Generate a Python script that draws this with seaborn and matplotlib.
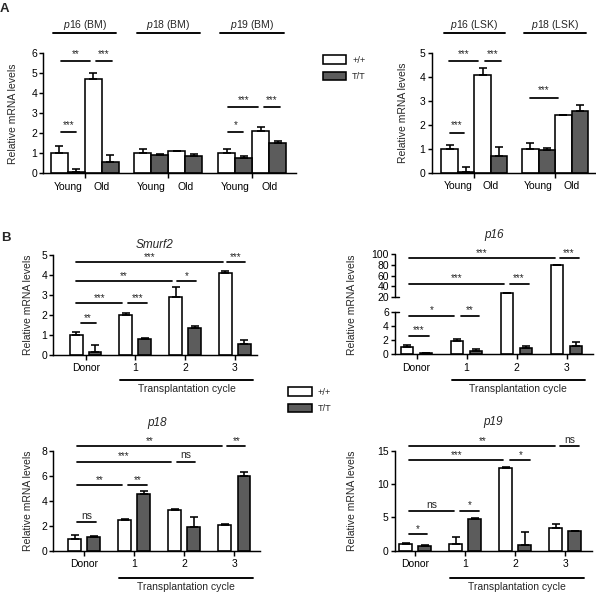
import numpy as np
import pandas as pd
import seaborn as sns
import matplotlib.pyplot as plt
from matplotlib.patches import Patch
from matplotlib.transforms import blended_transform_factory

# ---- data ----
genotypes = ['+/+', 'T/T']
ages = ['Young', 'Old']

# panel A, bone marrow (order: p16 young, p16 old, p18 young, ...)
bm_genes = ['p16', 'p18', 'p19']
bm_wt = [1.0, 4.7, 1.0, 1.1, 1.0, 2.1]
bm_wt_err = [0.35, 0.3, 0.2, 0.03, 0.2, 0.2]
bm_tt = [0.05, 0.58, 0.92, 0.85, 0.75, 1.5]
bm_tt_err = [0.17, 0.36, 0.03, 0.13, 0.12, 0.13]

# panel A, LSK cells
lsk_genes = ['p16', 'p18']
lsk_wt = [1.0, 4.1, 1.0, 2.4]
lsk_wt_err = [0.16, 0.3, 0.25, 0.03]
lsk_tt = [0.03, 0.7, 0.93, 2.6]
lsk_tt_err = [0.22, 0.39, 0.1, 0.22]

# panel B, transplantation cycles
cycles = ['Donor', '1', '2', '3']
smurf2_wt = [1.0, 1.98, 2.9, 4.07]
smurf2_wt_err = [0.13, 0.08, 0.47, 0.13]
smurf2_tt = [0.15, 0.77, 1.32, 0.53]
smurf2_tt_err = [0.32, 0.06, 0.11, 0.2]

p16_wt = [1.0, 1.83, 28.0, 80.0]
p16_wt_err = [0.3, 0.33, 0.0, 0.0]
p16_tt = [0.12, 0.47, 0.85, 1.13]
p16_tt_err = [0.1, 0.23, 0.37, 0.65]

p18_wt = [1.0, 2.5, 3.3, 2.1]
p18_wt_err = [0.3, 0.1, 0.05, 0.05]
p18_tt = [1.12, 4.55, 1.9, 6.0]
p18_tt_err = [0.05, 0.25, 0.8, 0.3]

p19_wt = [1.0, 1.0, 12.5, 3.4]
p19_wt_err = [0.2, 1.05, 0.1, 0.65]
p19_tt = [0.7, 4.7, 0.85, 2.9]
p19_tt_err = [0.15, 0.15, 1.95, 0.1]

# significance marks: (from, to, height, label)
bm_sig = [(-0.2, 0.24, 2.05, '***'), (-0.2, 0.64, 5.6, '**'), (0.83, 1.29, 5.6, '***'),
          (4.72, 5.16, 2.05, '*'), (4.72, 5.6, 3.3, '***'), (5.77, 6.24, 3.3, '***')]
lsk_sig = [(-0.25, 0.2, 1.68, '***'), (-0.26, 0.62, 4.67, '***'), (0.83, 1.3, 4.67, '***'),
           (2.19, 3.04, 3.14, '***')]
smurf2_sig = [(-0.19, 2.76, 4.62, '***'), (2.84, 3.2, 4.62, '***'),
              (-0.19, 1.74, 3.68, '**'), (1.84, 2.22, 3.68, '*'),
              (-0.19, 0.74, 2.57, '***'), (0.85, 1.24, 2.57, '***'),
              (-0.1, 0.2, 1.57, '**')]
p16_sig = [(-0.15, 2.76, 92.5, '***'), (2.86, 3.24, 92.5, '***'),
           (-0.15, 1.74, 45, '***'), (1.86, 2.24, 45, '***'),
           (-0.15, 0.75, 5.44, '*'), (0.88, 1.25, 5.44, '**'),
           (-0.15, 0.24, 2.58, '***')]
p18_sig = [(-0.15, 2.76, 8.4, '**'), (2.85, 3.22, 8.4, '**'),
           (-0.15, 1.74, 7.15, '***'), (1.85, 2.22, 7.15, 'ns'),
           (-0.15, 0.75, 5.28, '**'), (0.87, 1.25, 5.28, '**'),
           (-0.15, 0.23, 2.29, 'ns')]
p19_sig = [(-0.12, 2.8, 15.7, '**'), (2.89, 3.27, 15.7, 'ns'),
           (-0.12, 1.76, 13.6, '***'), (1.9, 2.3, 13.6, '*'),
           (-0.12, 0.77, 6.0, 'ns'), (0.9, 1.27, 6.0, '*'),
           (-0.12, 0.24, 2.5, '*')]

W, H = 596, 601
colors = {'+/+': 'white', 'T/T': '#5c5c5c'}
LW = 1.05
FS = 7.5

sns.set_style('ticks')
plt.rcParams['font.family'] = ['Liberation Sans', 'DejaVu Sans']
plt.rcParams['mathtext.fontset'] = 'custom'
plt.rcParams['mathtext.rm'] = 'Liberation Sans'
plt.rcParams['mathtext.it'] = 'Liberation Sans:italic'
plt.rcParams['axes.linewidth'] = LW
plt.rcParams['xtick.major.width'] = LW
plt.rcParams['ytick.major.width'] = LW
plt.rcParams['xtick.minor.width'] = LW
plt.rcParams['ytick.major.size'] = 3
plt.rcParams['xtick.major.size'] = 3.3
plt.rcParams['ytick.major.pad'] = 1.5
plt.rcParams['xtick.labelsize'] = FS
plt.rcParams['ytick.labelsize'] = FS
plt.rcParams['axes.edgecolor'] = 'black'
plt.rcParams['xtick.color'] = 'black'
plt.rcParams['ytick.color'] = 'black'

fig = plt.figure(figsize=(W / 100, H / 100), dpi=100)


def fy(py):
    return 1 - py / H


def make_axes(left, top, right, bottom):
    return fig.add_axes([left / W, 1 - bottom / H, (right - left) / W, (bottom - top) / H])


def add_bars(ax, df, x, **kw):
    sns.barplot(data=df, x=x, y='value', hue='genotype', hue_order=genotypes,
                palette=colors, errorbar=None, edgecolor='black', linewidth=LW * 1.1,
                legend=False, ax=ax, **kw)
    bars = sorted(ax.patches, key=lambda p: p.get_x())
    xs = [p.get_x() + p.get_width() / 2 for p in bars]
    ys = [p.get_height() for p in bars]
    ax.errorbar(xs, ys, yerr=[np.zeros(len(df)), df['err'].values], fmt='none',
                ecolor='black', elinewidth=LW * 1.1, capsize=2.8, capthick=LW * 1.1, zorder=3)


def add_sig(ax, marks, lift=1.0):
    for x0, x1, y, lab in marks:
        ax.plot([x0, x1], [y, y], color='black', lw=LW * 1.2, clip_on=False)
        star = lab != 'ns'
        ax.annotate(lab, ((x0 + x1) / 2, y), xytext=(0, lift if star else lift + 0.6),
                    textcoords='offset points', ha='center', va='bottom',
                    fontsize=7 if star else FS, annotation_clip=False)


def age_panel(ax, genes, tissue, wt, wt_err, tt, tt_err, spacing, xlim, ymax):
    rows = []
    for i, gene in enumerate(genes):
        for j, age in enumerate(ages):
            k = 2 * i + j
            pos = i * spacing + j
            rows.append((gene, age, pos, '+/+', wt[k], wt_err[k]))
            rows.append((gene, age, pos, 'T/T', tt[k], tt_err[k]))
    df = pd.DataFrame(rows, columns=['gene', 'age', 'pos', 'genotype', 'value', 'err'])
    add_bars(ax, df, 'pos', native_scale=True, width=1.0)
    ax.set_xlim(*xlim)
    ax.set_ylim(0, ymax)
    ax.set_yticks(range(0, ymax + 1))
    centers = [i * spacing + j for i in range(len(genes)) for j in range(2)]
    ax.set_xticks(centers)
    ax.set_xticklabels(ages * len(genes))
    ax.set_xticks([i * spacing + 0.5 for i in range(len(genes))], minor=True)
    ax.tick_params(axis='x', which='major', length=0, pad=6)
    ax.tick_params(axis='x', which='minor', length=3.5)
    ax.set_xlabel('')
    ax.set_ylabel('')
    sns.despine(ax=ax)
    trans = blended_transform_factory(ax.transData, fig.transFigure)
    for i, gene in enumerate(genes):
        c = i * spacing + 0.5
        ax.plot([c - 0.93, c + 0.93], [fy(33), fy(33)], transform=trans,
                color='black', lw=LW * 1.3, clip_on=False)
        ax.text(c, fy(25), rf'$\mathit{{{gene}}}$ ({tissue})', transform=trans,
                ha='center', va='center', fontsize=FS)


def cycle_panel(ax, title, title_xy, wt, wt_err, tt, tt_err, xlim, cycle_y):
    rows = []
    for k, cyc in enumerate(cycles):
        rows.append((cyc, '+/+', wt[k], wt_err[k]))
        rows.append((cyc, 'T/T', tt[k], tt_err[k]))
    df = pd.DataFrame(rows, columns=['cycle', 'genotype', 'value', 'err'])
    add_bars(ax, df, 'cycle', order=cycles, width=0.76, gap=0.32)
    ax.set_xlim(*xlim)
    ax.set_xlabel('')
    ax.set_ylabel('')
    ax.tick_params(axis='x', length=3.5, pad=2.5)
    sns.despine(ax=ax)
    trans = blended_transform_factory(ax.transData, fig.transFigure)
    ax.plot([0.7, 3.37], [fy(cycle_y), fy(cycle_y)], transform=trans,
            color='black', lw=LW * 1.3, clip_on=False)
    # caption under the cycle line, anchored by its top edge
    ax.annotate('Transplantation cycle', (2.03, fy(cycle_y)), xycoords=trans,
                xytext=(0, -3), textcoords='offset points', ha='center', va='top',
                fontsize=FS, annotation_clip=False)
    fig.text(title_xy[0] / W, fy(title_xy[1]), title, style='italic',
             ha='center', va='center', fontsize=8.5)


# ---- panel A ----
ax_bm = make_axes(43.3, 53.3, 296, 173.3)
age_panel(ax_bm, bm_genes, 'BM', bm_wt, bm_wt_err, bm_tt, bm_tt_err, 2.46, (-0.72, 6.71), 6)
add_sig(ax_bm, bm_sig, lift=1.8)

ax_lsk = make_axes(431.7, 53.3, 595, 172.7)
age_panel(ax_lsk, lsk_genes, 'LSK', lsk_wt, lsk_wt_err, lsk_tt, lsk_tt_err, 2.45, (-0.79, 4.16), 5)
add_sig(ax_lsk, lsk_sig, lift=1.8)

# ---- panel B ----
ax_s = make_axes(53.3, 254.7, 256.7, 354.7)
cycle_panel(ax_s, 'Smurf2', (155, 245), smurf2_wt, smurf2_wt_err, smurf2_tt,
            smurf2_tt_err, (-0.65, 3.44), 380)
ax_s.set_ylim(0, 5)
ax_s.set_yticks(range(0, 6))
add_sig(ax_s, smurf2_sig, lift=0.3)


# p16 has a broken y axis: 0-6 on the lower part, 20-100 on the upper part
def brk_fwd(y):
    y = np.asarray(y, dtype=float)
    return np.where(y <= 6, y * 7.1,
                    np.where(y <= 20, 42.6 + (y - 6) * 14.7 / 14, 57.3 + (y - 20) * 42.7 / 80))


def brk_inv(v):
    v = np.asarray(v, dtype=float)
    return np.where(v <= 42.6, v / 7.1,
                    np.where(v <= 57.3, 6 + (v - 42.6) * 14 / 14.7, 20 + (v - 57.3) * 80 / 42.7))


ax_16 = make_axes(395, 254.3, 593, 354.3)
ax_16.set_yscale('function', functions=(brk_fwd, brk_inv))
cycle_panel(ax_16, 'p16', (494, 235), p16_wt, p16_wt_err, p16_tt, p16_tt_err,
            (-0.43, 3.53), 380)
ax_16.set_ylim(0, 100)
ax_16.set_yticks([0, 2, 4, 6, 20, 40, 60, 80, 100])
ax_16.yaxis.set_minor_locator(plt.NullLocator())
ax_16.spines['left'].set_visible(False)
ytr = ax_16.get_yaxis_transform()
for lo, hi in [(0, 6), (20, 100)]:
    ax_16.plot([0, 0], [lo, hi], transform=ytr, color='black', lw=LW, clip_on=False)
for yb in (6, 20):
    ax_16.plot([0, 0.02], [yb, yb], transform=ytr, color='black', lw=LW, clip_on=False)
add_sig(ax_16, p16_sig, lift=0.3)

ax_18 = make_axes(53.3, 451, 260, 551)
cycle_panel(ax_18, 'p18', (156.6, 423.3), p18_wt, p18_wt_err, p18_tt, p18_tt_err,
            (-0.62, 3.51), 577.5)
ax_18.set_ylim(0, 8)
ax_18.set_yticks([0, 2, 4, 6, 8])
add_sig(ax_18, p18_sig, lift=0.3)

ax_19 = make_axes(395, 451, 592, 550.7)
cycle_panel(ax_19, 'p19', (493.5, 421.7), p19_wt, p19_wt_err, p19_tt, p19_tt_err,
            (-0.4, 3.53), 577.5)
ax_19.set_ylim(0, 15)
ax_19.set_yticks([0, 5, 10, 15])
add_sig(ax_19, p19_sig, lift=0.3)

# y labels
for px, py in [(13, 113.3), (402.7, 113), (28.3, 304.7), (351.7, 304.3), (28.3, 501), (351.7, 501)]:
    fig.text(px / W, fy(py), 'Relative mRNA levels', rotation=90, ha='center', va='center',
             fontsize=FS)

# legends
handles = [Patch(facecolor=colors[g], edgecolor='black', linewidth=LW * 1.1, label=g)
           for g in genotypes]
for lx, ly in [(322.7, 55.5), (288.3, 387.3)]:
    fig.legend(handles=handles, loc='upper left', bbox_to_anchor=(lx / W, fy(ly)),
               frameon=False, fontsize=6.6, handlelength=2.55, handleheight=1.0,
               labelspacing=0.78, handletextpad=0.65, borderpad=0, borderaxespad=0)

# panel letters
fig.text(4 / W, fy(8.5), 'A', fontsize=9.5, fontweight='bold', ha='center', va='center')
fig.text(5.5 / W, fy(238), 'B', fontsize=9.5, fontweight='bold', ha='center', va='center')

fig.savefig('out.png', dpi=100, facecolor='white')
